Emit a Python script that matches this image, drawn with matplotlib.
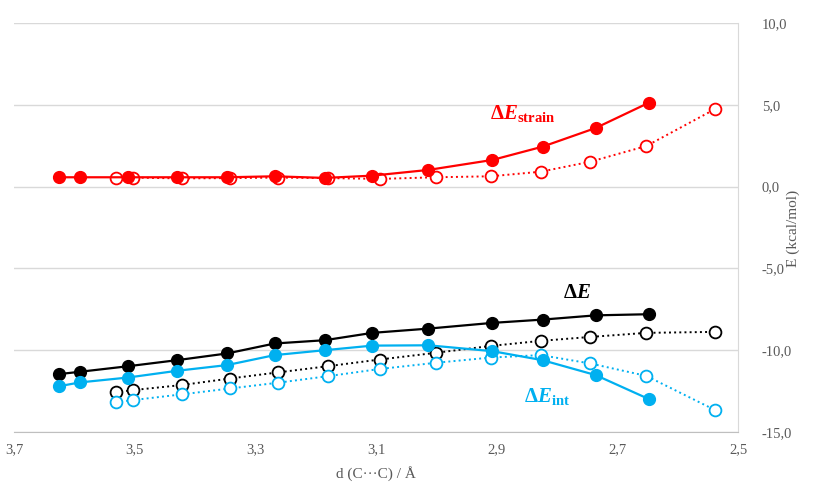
import numpy as np
import matplotlib
matplotlib.use("Agg")
import matplotlib.pyplot as plt
from matplotlib.ticker import FuncFormatter

# distances d(C...C) in Angstrom
d_full = [3.625, 3.591, 3.511, 3.430, 3.347, 3.268, 3.185, 3.106, 3.013, 2.907, 2.824, 2.736, 2.647]
d_open = [3.531, 3.503, 3.422, 3.342, 3.263, 3.180, 3.094, 3.001, 2.910, 2.827, 2.745, 2.652, 2.538]

# energies (kcal/mol), filled markers / solid lines
strain_full = [0.57, 0.57, 0.57, 0.57, 0.57, 0.63, 0.53, 0.67, 1.02, 1.63, 2.44, 3.58, 5.14]
total_full = [-11.46, -11.32, -10.98, -10.61, -10.20, -9.59, -9.39, -8.94, -8.68, -8.33, -8.13, -7.87, -7.80]
int_full = [-12.20, -11.97, -11.67, -11.26, -10.91, -10.30, -10.00, -9.72, -9.70, -10.06, -10.61, -11.52, -13.00]

# energies (kcal/mol), open markers / dotted lines
strain_open = [0.50, 0.55, 0.50, 0.52, 0.55, 0.52, 0.47, 0.57, 0.63, 0.91, 1.52, 2.48, 4.74]
total_open = [-12.58, -12.44, -12.13, -11.73, -11.36, -10.98, -10.57, -10.16, -9.74, -9.43, -9.19, -8.94, -8.88]
int_open = [-13.19, -13.05, -12.70, -12.34, -11.99, -11.59, -11.15, -10.77, -10.45, -10.30, -10.81, -11.57, -13.66]

RED = "#FF0000"
BLUE = "#00B0F0"
BLACK = "#000000"
GRAY = "#595959"

plt.rcParams["font.family"] = ["Liberation Serif", "DejaVu Serif"]
plt.rcParams["mathtext.fontset"] = "custom"
plt.rcParams["mathtext.rm"] = "Liberation Serif"
plt.rcParams["mathtext.it"] = "Liberation Serif:italic"
plt.rcParams["mathtext.bf"] = "Liberation Serif:bold"
plt.rcParams["mathtext.bfit"] = "Liberation Serif:italic:bold"

fig = plt.figure(figsize=(8.14, 4.88), dpi=100)
ax = fig.add_axes([14 / 814, 1 - 432 / 488, (738 - 14) / 814, (432 - 23) / 488])

series = [
    (d_full, strain_full, RED, True),
    (d_open, strain_open, RED, False),
    (d_full, total_full, BLACK, True),
    (d_open, total_open, BLACK, False),
    (d_full, int_full, BLUE, True),
    (d_open, int_open, BLUE, False),
]

for x, y, c, filled in series:
    if filled:
        ax.plot(x, y, "-", color=c, lw=1.6, marker="o", ms=8.5,
                mfc=c, mec=c, zorder=4)
    else:
        ax.plot(x, y, ":", color=c, lw=1.4, marker="o", ms=8.5,
                mfc="white", mec=c, mew=1.3, zorder=3)

ax.set_xlim(3.7, 2.5)
ax.set_ylim(-15, 10)
ax.set_xticks(np.arange(3.7, 2.49, -0.2))
ax.set_yticks(np.arange(-15, 10.1, 5))

fmt = FuncFormatter(lambda v, p: f"{v:.1f}".replace(".", ","))
ax.xaxis.set_major_formatter(fmt)
ax.yaxis.set_major_formatter(fmt)

ax.yaxis.tick_right()
ax.tick_params(axis="both", length=0, labelsize=10.5, labelcolor=GRAY)
ax.tick_params(axis="y", pad=17)
ax.tick_params(axis="x", pad=8)

ax.grid(axis="y", color="#D9D9D9", lw=1)
ax.set_axisbelow(True)
for s in ["left", "top"]:
    ax.spines[s].set_visible(False)
ax.spines["bottom"].set_color("#BFBFBF")
ax.spines["right"].set_color("#D9D9D9")

ax.set_xlabel("d (C\u00b7\u00b7\u00b7C) / \u00c5", fontsize=11, color=GRAY, labelpad=7)
# y label sits between the tick labels, as in the original
fig.text(793 / 814, 1 - 228 / 488, "E (kcal/mol)", rotation=90, fontsize=11,
         color=GRAY, ha="center", va="center")

ax.text(2.857, 4.45, r"$\mathbf{\Delta}\mathbfit{E}_{\mathbf{strain}}$", color=RED,
        fontsize=15, ha="center", va="center")
ax.text(2.766, -6.52, r"$\mathbf{\Delta}\mathbfit{E}$", color=BLACK,
        fontsize=15, ha="center", va="center")
ax.text(2.816, -12.8, r"$\mathbf{\Delta}\mathbfit{E}_{\mathbf{int}}$", color=BLUE,
        fontsize=15, ha="center", va="center")

fig.savefig("out.png", dpi=100)
